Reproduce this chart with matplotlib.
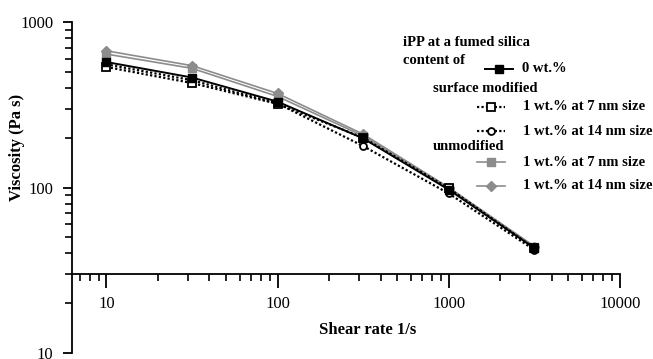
import matplotlib
matplotlib.use("Agg")
import matplotlib.pyplot as plt
from matplotlib.lines import Line2D
from matplotlib import ticker

plt.rcParams['font.family'] = ['Liberation Serif', 'DejaVu Serif']

shear_rate = [10, 31.6, 100, 316, 1000, 3162]
visc_0wt = [573, 462, 330, 198, 97, 43]
visc_sm_7nm = [535, 428, 320, 200, 99, 43]
visc_sm_14nm = [555, 445, 322, 178, 92, 42]
visc_um_7nm = [640, 525, 355, 205, 99, 44]
visc_um_14nm = [670, 545, 370, 210, 100, 44]

grey = '#8c8c8c'
series = [
    ("0 wt.%", visc_0wt, dict(color='black', ls='-', lw=1.4, marker='s', ms=6, mfc='black', mec='black')),
    ("1 wt.% at 7 nm size", visc_sm_7nm, dict(color='black', ls=(0, (1, 1)), lw=1.6, marker='s', ms=6, mfc='white', mec='black', mew=1.3)),
    ("1 wt.% at 14 nm size", visc_sm_14nm, dict(color='black', ls=(0, (1, 1)), lw=1.6, marker='o', ms=5, mfc='white', mec='black', mew=1.3)),
    ("1 wt.% at 7 nm size", visc_um_7nm, dict(color=grey, ls='-', lw=1.2, marker='s', ms=6, mfc=grey, mec=grey)),
    ("1 wt.% at 14 nm size", visc_um_14nm, dict(color=grey, ls='-', lw=1.2, marker='D', ms=5, mfc=grey, mec=grey)),
]

W, H = 653, 359
fig = plt.figure(figsize=(W / 100, H / 100), dpi=100)
ax = fig.add_axes([72 / W, 1 - 353 / H, (620 - 72) / W, (353 - 22) / H])

# draw back to front so black lines sit on the grey ones like in the figure
for label, vals, st in [series[3], series[4], series[2], series[1], series[0]]:
    ax.plot(shear_rate, vals, **st)

ax.set_xscale('log')
ax.set_yscale('log')
ax.set_xlim(6.3, 10000)
ax.set_ylim(10, 1000)

ax.spines['top'].set_visible(False)
ax.spines['right'].set_visible(False)
ax.spines['bottom'].set_position(('data', 30))
ax.spines['left'].set_linewidth(1.3)
ax.spines['bottom'].set_linewidth(1.3)

ax.xaxis.set_major_locator(ticker.FixedLocator([10, 100, 1000, 10000]))
ax.yaxis.set_major_locator(ticker.FixedLocator([10, 100, 1000]))
ax.xaxis.set_minor_locator(ticker.LogLocator(subs=range(2, 10)))
ax.yaxis.set_minor_locator(ticker.LogLocator(subs=range(2, 10)))
fmt = ticker.FuncFormatter(lambda v, p: f"{v:g}")
ax.xaxis.set_major_formatter(fmt)
ax.yaxis.set_major_formatter(fmt)
ax.xaxis.set_minor_formatter(ticker.NullFormatter())
ax.yaxis.set_minor_formatter(ticker.NullFormatter())
ax.tick_params(axis='x', which='major', direction='out', length=10, width=1.3, labelsize=12, pad=6)
ax.tick_params(axis='x', which='minor', direction='out', length=5, width=1.2)
ax.tick_params(axis='y', which='major', direction='out', length=6.5, width=1.3, labelsize=12, pad=7)
ax.tick_params(axis='y', which='minor', direction='out', length=5, width=1.2)

ax.set_xlabel("Shear rate 1/s", fontsize=12, fontweight='bold')
ax.xaxis.set_label_coords(0.54, 0.094)
ax.set_ylabel("Viscosity (Pa s)", fontsize=12, fontweight='bold')
ax.yaxis.set_label_coords(-0.086, 0.62)

# hand made legend, positions in pixels
def px(x, y):
    return x / W, 1 - y / H

fs = 10.5
fig.text(*px(403, 43), "iPP at a fumed silica", fontsize=fs, fontweight='bold', va='center')
fig.text(*px(403, 61), "content of", fontsize=fs, fontweight='bold', va='center')
fig.text(*px(433, 88), "surface modified", fontsize=fs, fontweight='bold', va='center')
fig.text(*px(433, 146), "unmodified", fontsize=fs, fontweight='bold', va='center')

entry_rows = [(485, 69, 522), (477, 107, 523), (477, 131, 523), (477, 162, 523), (477, 186, 523)]
for (label, vals, st), (x0, y0, xt) in zip(series, entry_rows):
    xa, ya = px(x0, y0)
    xb, _ = px(x0 + 28, y0)
    xm, _ = px(x0 + 14, y0)
    line_st = {k: v for k, v in st.items() if k not in ('marker', 'ms', 'mfc', 'mec', 'mew')}
    fig.add_artist(Line2D([xa, xb], [ya, ya], transform=fig.transFigure, **line_st))
    mk_st = {k: v for k, v in st.items() if k not in ('ls', 'lw')}
    fig.add_artist(Line2D([xm], [ya], transform=fig.transFigure, ls='none', **mk_st))
    fig.text(*px(xt, y0), label, fontsize=fs, fontweight='bold', va='center')

fig.savefig("out.png", dpi=100)
